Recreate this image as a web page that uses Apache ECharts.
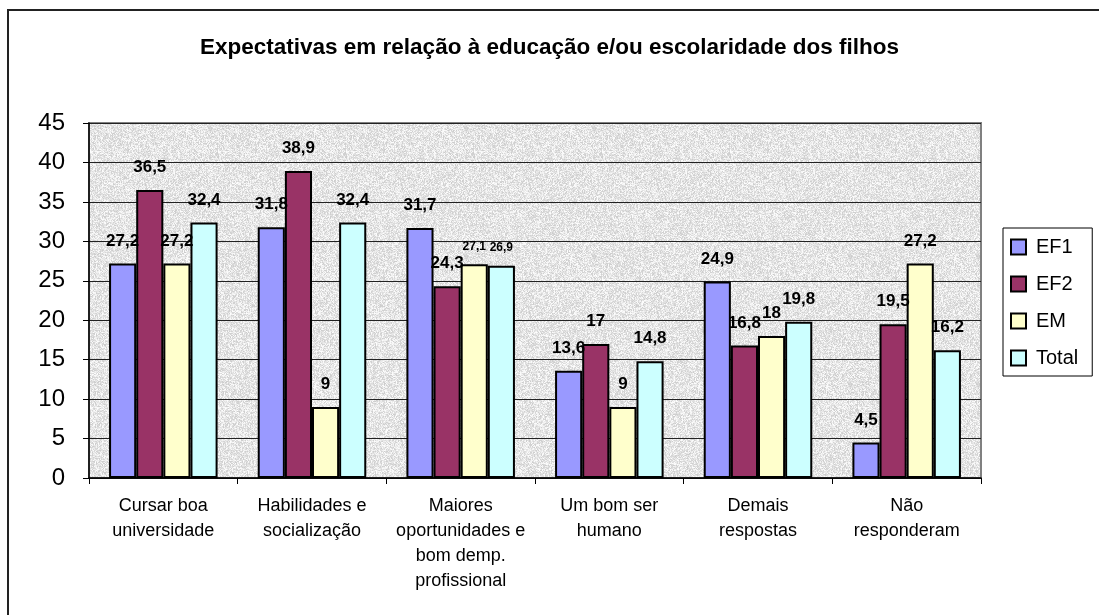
<!DOCTYPE html>
<html>
<head>
<meta charset="utf-8">
<script src="https://cdn.jsdelivr.net/npm/echarts@6/dist/echarts.min.js"></script>
<style>
  html, body { margin: 0; padding: 0; background: #fff; }
  #chart { width: 1099px; height: 615px; }
</style>
</head>
<body>
<div id="chart"></div>
<script>
(function() {
  var categories = ['Cursar boa\nuniversidade', 'Habilidades e\nsocialização', 'Maiores\noportunidades e\nbom demp.\nprofissional', 'Um bom ser\nhumano', 'Demais\nrespostas', 'Não\nresponderam'];
  var seriesNames = ['EF1', 'EF2', 'EM', 'Total'];
  var ef1 = [27.2, 31.8, 31.7, 13.6, 24.9, 4.5];
  var ef2 = [36.5, 38.9, 24.3, 17, 16.8, 19.5];
  var em = [27.2, 9, 27.1, 9, 18, 27.2];
  var total = [32.4, 32.4, 26.9, 14.8, 19.8, 16.2];
  var colors = ['#9999ff', '#993366', '#ffffcc', '#ccffff'];

  // granite-like texture for the plot area (deterministic)
  var tex = document.createElement('canvas');
  tex.width = 128; tex.height = 128;
  var tctx = tex.getContext('2d');
  var img = tctx.createImageData(128, 128);
  for (var i = 0; i < 128 * 128; i++) {
    var h = Math.sin(i * 12.9898 + (i % 7) * 78.233) * 43758.5453;
    h = h - Math.floor(h);
    var v = Math.round(204 + h * 50);
    img.data[i * 4] = v; img.data[i * 4 + 1] = v; img.data[i * 4 + 2] = v; img.data[i * 4 + 3] = 255;
  }
  tctx.putImageData(img, 0, 0);

  function fmt(p) { return String(p.value).replace('.', ','); }

  function makeData(arr, si) {
    return arr.map(function(v, ci) {
      // the two crowded labels in group 3 are drawn smaller
      if (ci === 2 && (si === 2 || si === 3)) {
        return { value: v, label: { fontSize: 12, distance: 12 } };
      }
      return v;
    });
  }

  var chart = echarts.init(document.getElementById('chart'));
  chart.setOption({
    animation: false,
    title: {
      text: 'Expectativas em relação à educação e/ou escolaridade dos filhos',
      left: 'center',
      top: 31,
      textStyle: { fontFamily: 'Liberation Sans', fontSize: 22.5, fontWeight: 'bold', color: '#000' }
    },
    legend: {
      orient: 'vertical',
      left: 1003,
      top: 228,
      padding: [9, 14, 8, 7],
      itemWidth: 15,
      itemHeight: 15,
      itemGap: 17,
      borderColor: '#000',
      borderWidth: 1,
      icon: 'rect',
      itemStyle: { borderColor: '#000', borderWidth: 2 },
      textStyle: { fontFamily: 'Liberation Sans', fontSize: 20, lineHeight: 20, color: '#000', padding: [0, 0, 0, 5] },
      data: seriesNames
    },
    graphic: [{
      type: 'rect',
      shape: { x: 8, y: 10, width: 1200, height: 700 },
      style: { fill: 'none', stroke: '#222', lineWidth: 2 },
      silent: true
    }],
    grid: {
      left: 89, top: 123, width: 892, height: 355,
      show: true,
      backgroundColor: { image: tex, repeat: 'repeat' },
      borderColor: '#808080',
      borderWidth: 2
    },
    xAxis: {
      type: 'category',
      data: categories,
      axisLine: { lineStyle: { color: '#000', width: 1.5 } },
      axisTick: { show: true, length: 6, lineStyle: { color: '#000' } },
      axisLabel: {
        fontFamily: 'Liberation Sans', fontSize: 18, color: '#000',
        lineHeight: 25, margin: 16, interval: 0
      }
    },
    yAxis: {
      type: 'value',
      min: 0, max: 45, interval: 5,
      axisLine: { show: true, lineStyle: { color: '#000', width: 1.5 } },
      axisTick: { show: true, length: 6, lineStyle: { color: '#000' } },
      splitLine: { lineStyle: { color: '#222', width: 1 } },
      axisLabel: { fontFamily: 'Liberation Sans', fontSize: 24, color: '#000', margin: 24 }
    },
    series: [ef1, ef2, em, total].map(function(arr, si) {
      return {
        name: seriesNames[si],
        type: 'bar',
        data: makeData(arr, si),
        barGap: '0%',
        barCategoryGap: '27%',
        itemStyle: { color: colors[si], borderColor: '#000', borderWidth: 2 },
        label: {
          show: true,
          position: 'top',
          distance: 14,
          formatter: fmt,
          fontFamily: 'Liberation Sans',
          fontSize: 17,
          fontWeight: 'bold',
          color: '#000'
        }
      };
    })
  });
  window.addEventListener('resize', function() { chart.resize(); });
})();
</script>
</body>
</html>
